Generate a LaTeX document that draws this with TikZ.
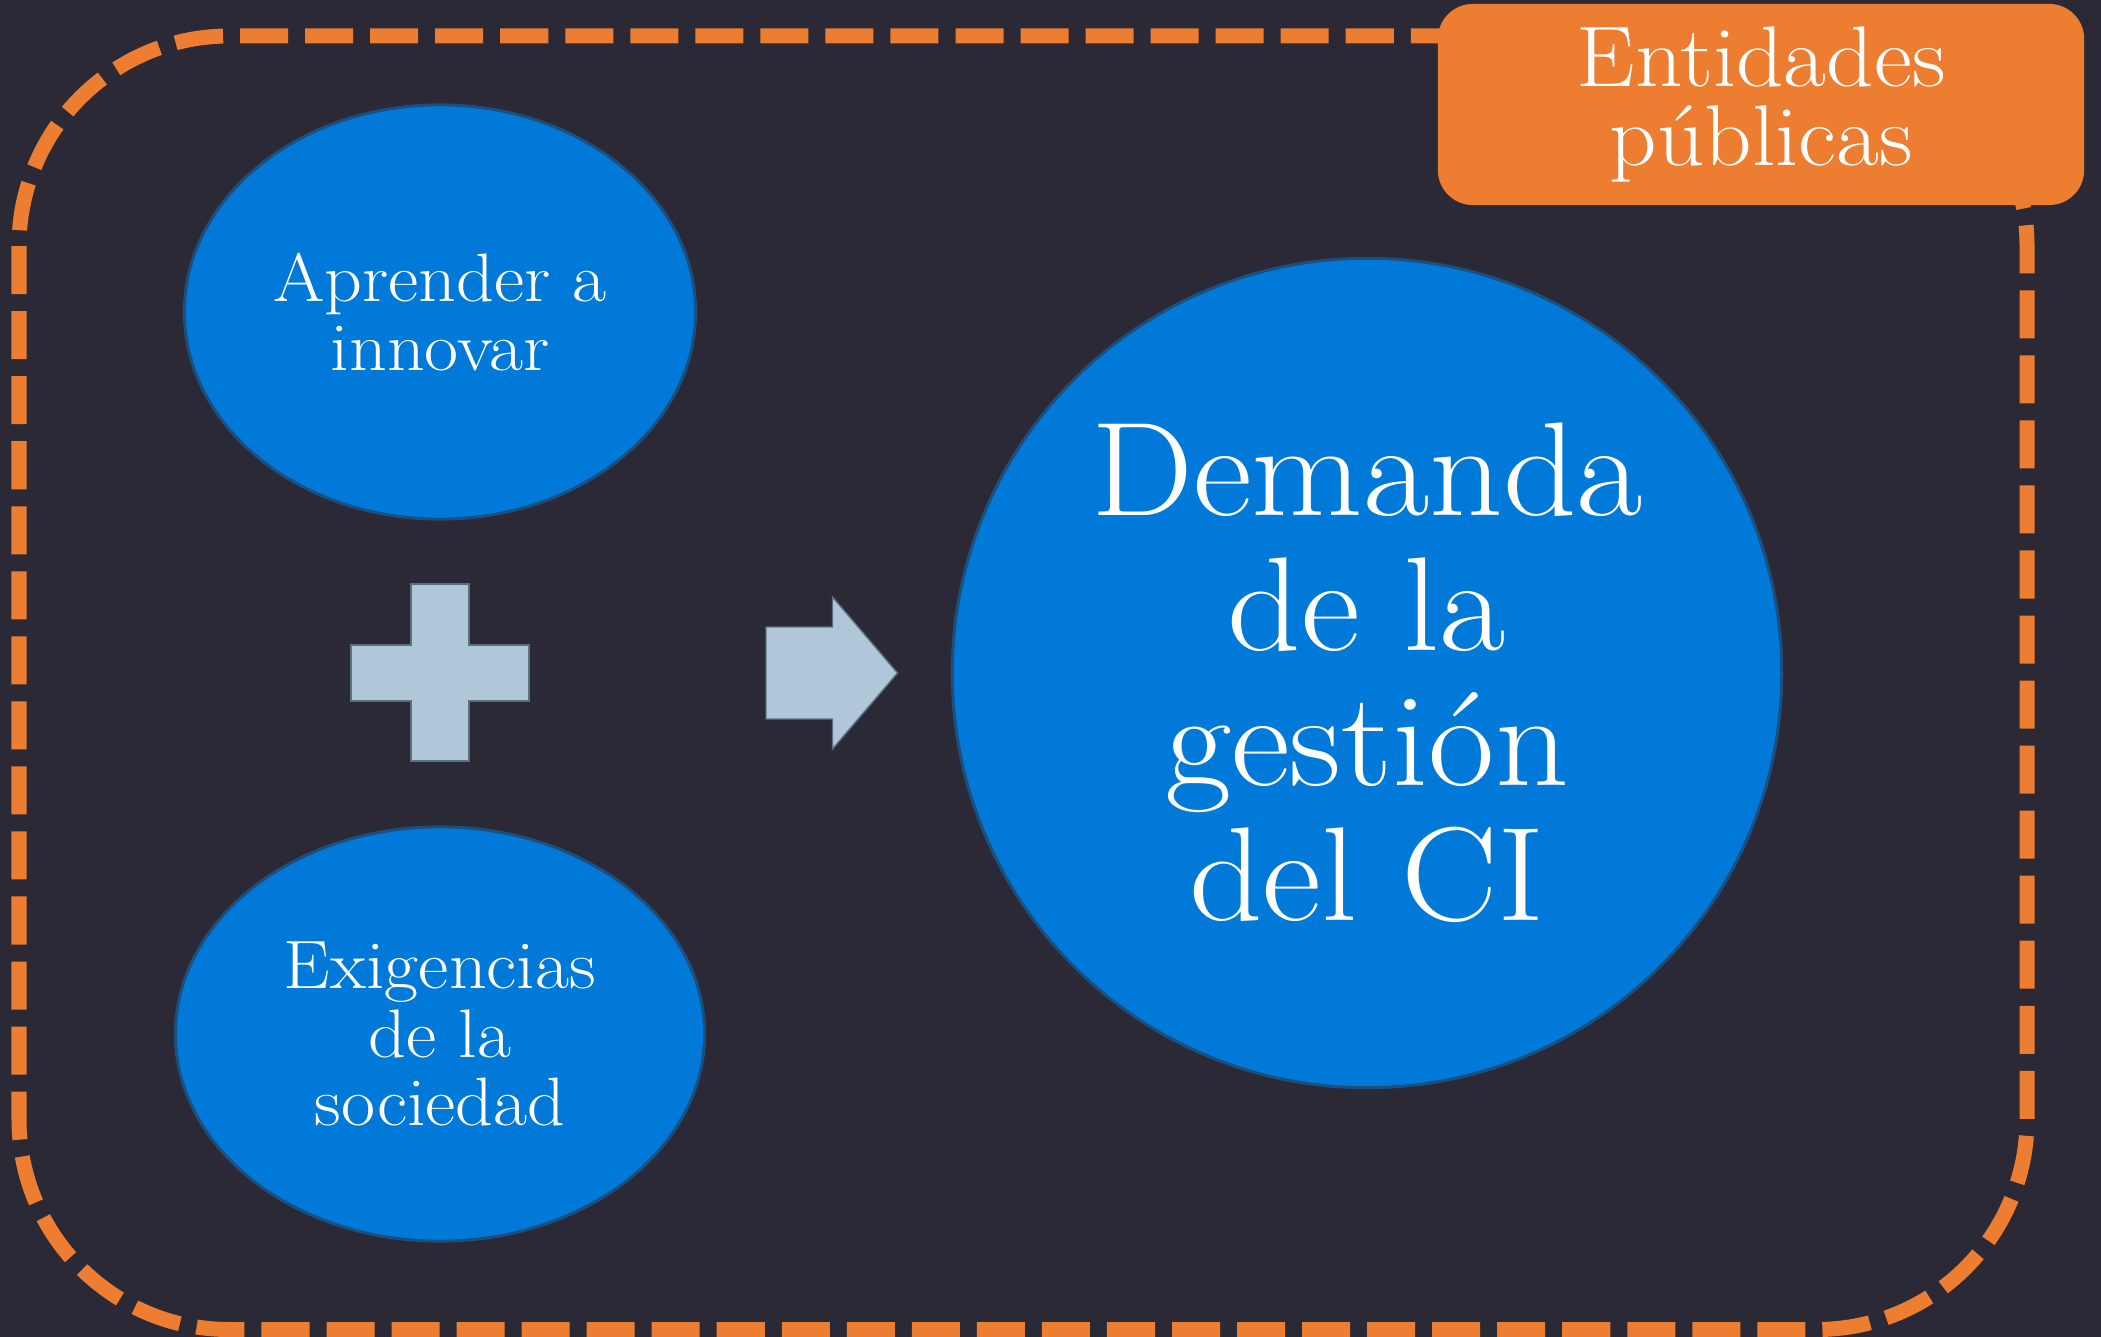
\documentclass[tikz,border=0pt]{standalone}
\usepackage{fontspec}
\setmainfont{Latin Modern Roman}[FakeStretch=1.08]
\usetikzlibrary{shapes.geometric}
\definecolor{fondo}{HTML}{2A2935}
\definecolor{naranja}{HTML}{ED7D31}
\definecolor{azul}{HTML}{0079D8}
\definecolor{azulborde}{HTML}{1B4F7E}
\definecolor{celeste}{HTML}{AFC7D9}
\definecolor{celesteborde}{HTML}{5C6F80}
\tikzset{
	burbuja/.style={ellipse, draw=azulborde, line width=0.03cm, fill=azul, text=white, inner sep=0pt, align=center},
	signo/.style={fill=celeste, draw=celesteborde, line width=0.4pt},
	caja/.style={fill=naranja, rounded corners=0.35cm, text=white, align=center, minimum width=6.46cm, minimum height=2.01cm}
}
\begin{document}
\begin{tikzpicture}[x=0.01cm,y=-0.01cm]
	\newcommand{\chica}{\fontsize{19.5}{19.4}\selectfont}
	\newcommand{\grande}{\fontsize{38}{38.4}\selectfont}
	\fill[fondo] (0,0) rectangle (2101,1337); %fondo
	\useasboundingbox (0,0) rectangle (2101,1337);
	\draw[naranja, line width=0.15cm, dash pattern=on 0.48cm off 0.17cm, rounded corners=2.1cm] (19,36) rectangle (2027,1329.5); %borde
	\node[caja, font=\fontsize{24.5}{22.3}\selectfont] (entidades) at (1761,104.5) {Entidades\\públicas};
	\node[burbuja, minimum width=5.11cm, minimum height=4.14cm, font=\chica] (aprender) at (440,312) {Aprender a\\innovar};
	\node[burbuja, minimum width=5.29cm, minimum height=4.14cm, font=\chica] (exigencias) at (440,1034) {Exigencias\\de la\\sociedad};
	\node[burbuja, circle, minimum size=8.29cm, font=\grande] (demanda) at (1367,673) {Demanda\\de la\\gestión\\del CI};
	\filldraw[signo] (411,584) -- (469,584) -- (469,645) -- (529,645) -- (529,701) -- (469,701) -- (469,761) -- (411,761) -- (411,701) -- (351,701) -- (351,645) -- (411,645) -- cycle; %mas
	\filldraw[signo] (766,627) -- (832.5,627) -- (832.5,597) -- (897.5,673) -- (832.5,749) -- (832.5,719) -- (766,719) -- cycle; %flecha
\end{tikzpicture}
\end{document}
